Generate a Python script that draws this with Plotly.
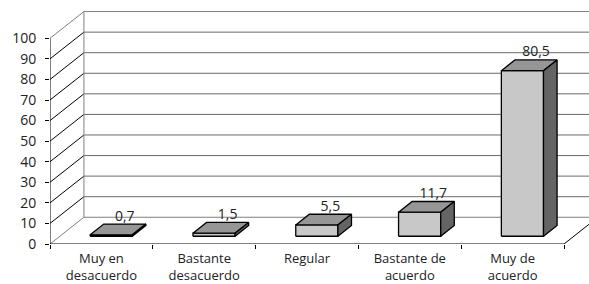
import plotly.graph_objects as go

# ---- data ----
categories = ["Muy en<br>desacuerdo", "Bastante<br>desacuerdo", "Regular", "Bastante de<br>acuerdo", "Muy de<br>acuerdo"]
values = [0.7, 1.5, 5.5, 11.7, 80.5]
y_ticks = [0, 10, 20, 30, 40, 50, 60, 70, 80, 90, 100]

# ---- 3D geometry (in axis units) ----
DX = 0.33      # wall depth along x (category units)
DY = 13.0      # wall depth along y (value units)
F0 = 0.29      # bar front depth fraction
FD = 0.40      # bar depth fraction
HW = 0.205     # bar half width
XL, XR = -0.5, 4.5
XEND = 6.0

FRONT_C = "#C8C8C8"
TOP_C = "#969696"
SIDE_C = "#646464"
GRID_C = "#6a6a6a"

fig = go.Figure()

def line(xs, ys, color, width=1):
    fig.add_trace(go.Scatter(x=xs, y=ys, mode="lines", line=dict(color=color, width=width),
                             hoverinfo="skip", showlegend=False))

def poly(xs, ys, fill):
    fig.add_trace(go.Scatter(x=xs + [xs[0]], y=ys + [ys[0]], mode="lines", fill="toself",
                             fillcolor=fill, line=dict(color="black", width=1.3),
                             hoverinfo="skip", showlegend=False))

# back wall gridlines and side wall diagonals
for v in y_ticks:
    edge = v in (0, 100)
    line([XL + DX, XEND], [v + DY, v + DY], "#808080" if edge else GRID_C)
    line([XL, XL + DX], [v, v + DY], "#808080" if edge else "black")
# back wall left edge
line([XL + DX, XL + DX], [DY, 100 + DY], "#808080")
# front axis line
line([XL, XL], [0, 100], "black")
# floor front edge and right diagonal
line([XL, XR], [0, 0], "black")
line([XR, XR + DX], [0, DY], "black")

# bars
ox, oy = F0 * DX, F0 * DY
ddx, ddy = FD * DX, FD * DY
lab_x, lab_y, lab_t = [], [], []
for i, v in enumerate(values):
    x0 = i - HW + ox
    x1 = i + HW + ox
    b = oy
    t = oy + v
    poly([x0, x1, x1, x0], [b, b, t, t], FRONT_C)
    poly([x0, x1, x1 + ddx, x0 + ddx], [t, t, t + ddy, t + ddy], TOP_C)
    poly([x1, x1 + ddx, x1 + ddx, x1], [b, b + ddy, t + ddy, t], SIDE_C)
    lab_x.append(i + ox + ddx)
    lab_y.append(t + ddy)
    lab_t.append(f"{v:.1f}".replace(".", ","))

fig.add_trace(go.Scatter(x=lab_x, y=lab_y, mode="text", text=lab_t, textposition="top center",
                         textfont=dict(family="Open Sans", size=14, color="#222"),
                         hoverinfo="skip", showlegend=False, cliponaxis=False))

fig.update_layout(
    width=589, height=284,
    margin=dict(l=50, r=0, t=2, b=40),
    paper_bgcolor="white", plot_bgcolor="white",
    font=dict(family="Open Sans", size=13, color="#222"),
    xaxis=dict(range=[XL, XL + 539 / 102.8], tickvals=list(range(len(categories))),
               ticktext=categories, ticks="", showgrid=False, zeroline=False, showline=False,
               tickfont=dict(size=13), automargin=False, ticklabelstandoff=5,
               minor=dict(tick0=-0.5, dtick=1, ticks="outside", ticklen=4, tickcolor="black", showgrid=False)),
    yaxis=dict(range=[0, 242 / 2.057], tickvals=y_ticks, ticktext=[str(v) for v in y_ticks],
               ticks="outside", ticklen=4, tickcolor="black", showgrid=False, zeroline=False,
               showline=False, tickfont=dict(size=14), ticklabelstandoff=6, automargin=False),
)

fig.write_html("out.html", config={"displayModeBar": False, "staticPlot": True},
               post_script="document.body.style.margin='0';document.body.style.overflow='hidden';")
